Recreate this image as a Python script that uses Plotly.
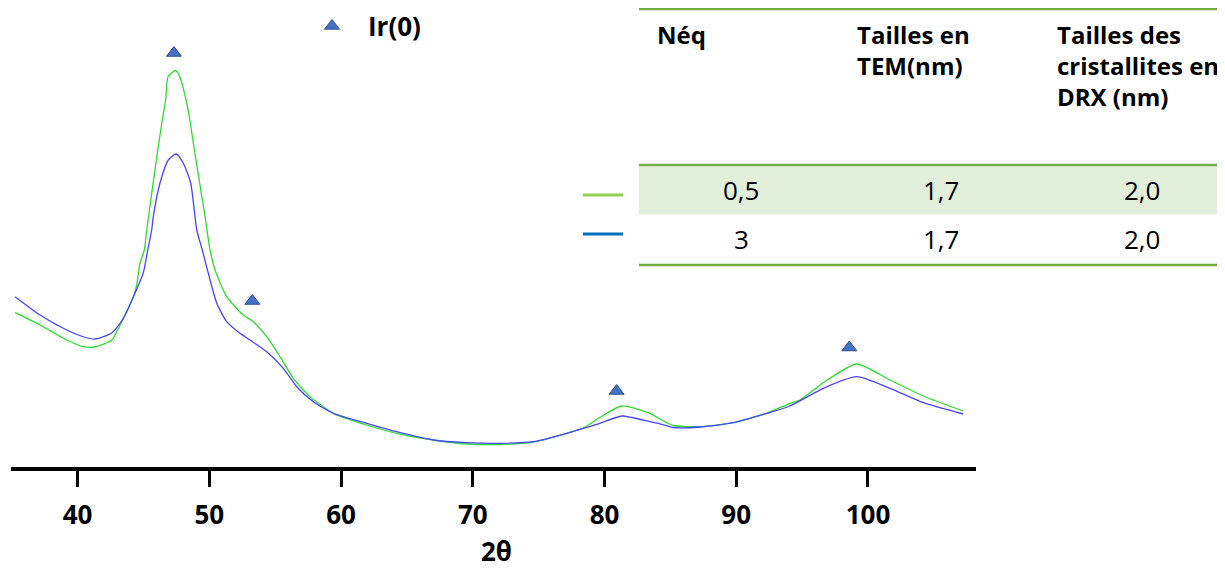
import plotly.graph_objects as go

# ---------------- data ----------------
theta_green = [35.26, 37.15, 39.18, 40.42, 41.33, 42.60, 43.48, 44.24, 44.49, 44.74,
               45.07, 45.25, 46.09, 46.47, 46.69, 46.87, 47.45, 47.76, 48.24, 48.49,
               48.87, 49.68, 50.06, 50.44, 51.32, 52.58, 53.34, 54.36, 55.37, 56.38,
               57.65, 59.42, 61.95, 64.23, 67.00, 69.54, 72.07, 74.60, 77.13, 78.39,
               79.66, 81.31, 83.45, 84.34, 85.22, 87.25, 89.78, 92.31, 94.08, 94.84,
               96.61, 99.14, 101.67, 104.20, 107.23]
int_green = [154.3, 142.0, 127.0, 120.3, 120.0, 127.0, 148.7, 170.3, 182.0, 204.0,
             217.0, 237.0, 317.0, 350.0, 367.0, 390.3, 396.5, 390.3, 367.0, 350.0,
             317.0, 250.3, 217.0, 197.0, 170.3, 152.0, 145.3, 130.3, 110.3, 88.7,
             70.3, 53.7, 42.0, 33.7, 27.0, 23.0, 22.5, 25.0, 33.7, 39.0,
             49.7, 61.0, 53.7, 47.0, 41.5, 40.3, 44.3, 53.7, 63.7, 67.0,
             84.3, 103.0, 87.0, 71.0, 56.0]

theta_blue = [35.26, 37.15, 39.18, 40.50, 41.33, 42.60, 43.48, 44.24, 44.99, 45.33,
              45.63, 45.75, 46.26, 46.89, 47.48, 48.03, 48.59, 49.05, 49.47, 50.06,
              50.57, 51.32, 52.33, 53.09, 54.36, 55.62, 56.64, 57.90, 59.42, 61.95,
              64.23, 67.00, 69.54, 72.07, 74.60, 77.13, 78.39, 79.66, 81.31, 83.45,
              84.34, 85.22, 87.25, 89.78, 92.31, 94.08, 96.61, 99.14, 101.67, 104.20,
              107.23]
int_blue = [170.3, 152.0, 137.0, 130.0, 128.0, 134.0, 148.7, 170.3, 194.0, 217.0,
            237.0, 250.3, 284.0, 307.0, 313.0, 303.7, 284.0, 237.0, 217.0, 187.0,
            163.7, 145.3, 133.7, 127.0, 115.3, 98.7, 80.3, 65.3, 53.7, 43.7,
            35.3, 27.0, 24.3, 23.7, 25.3, 33.7, 38.7, 43.7, 51.0, 45.3,
            42.7, 39.5, 40.0, 44.3, 53.7, 61.0, 78.7, 90.3, 78.7, 64.3,
            53.0]

theta_ir = [47.32, 53.27, 80.92, 98.58]
int_ir = [414.0, 166.0, 76.0, 119.5]

tick_vals = [40, 50, 60, 70, 80, 90, 100]
tick_text = ["40", "50", "60", "70", "80", "90", "100"]
x_title = "2θ"

table_header = ["Néq", "Tailles en<br>TEM(nm)", "Tailles des<br>cristallites en<br>DRX (nm)"]
table_rows = [["0,5", "1,7", "2,0"], ["3", "1,7", "2,0"]]
row_colors = ["#92D050", "#0070C0"]

GREEN_LINE = "#2EDD2E"
BLUE_LINE = "#4646F5"

# ---------------- layout geometry (page pixel coordinates) ----------------
OFF = 8                      # default page body margin
W, H = 1225 - OFF, 571 - OFF
L, R = 11, 976               # plot area, page pixels
T, B = 8, 467


def px(x):
    return (x - L) / (R - L)


def py(y):
    return (B - y) / (B - T)


FONT = "Open Sans"

fig = go.Figure()
fig.add_trace(go.Scatter(x=theta_green, y=int_green, mode="lines",
                         line=dict(color=GREEN_LINE, width=1.3, shape="spline", smoothing=0.6),
                         showlegend=False))
fig.add_trace(go.Scatter(x=theta_blue, y=int_blue, mode="lines",
                         line=dict(color=BLUE_LINE, width=1.3, shape="spline", smoothing=0.6),
                         showlegend=False))
fig.add_trace(go.Scatter(x=theta_ir, y=int_ir, mode="markers", name="Ir(0)",
                         marker=dict(symbol="triangle-up", size=13, color="#4472C4",
                                     line=dict(color="#2F528F", width=1))))

shapes = []
annotations = []

# table rules
tbl_left, tbl_right = 639, 1225
for yline in [9, 165, 265]:
    shapes.append(dict(type="line", xref="paper", yref="paper",
                       x0=px(tbl_left), x1=px(tbl_right), y0=py(yline), y1=py(yline),
                       line=dict(color="#70AD47", width=2.5), layer="above"))
# shaded first row
shapes.append(dict(type="rect", xref="paper", yref="paper",
                   x0=px(tbl_left), x1=px(tbl_right), y0=py(214.5), y1=py(166.2),
                   fillcolor="#E2EFDA", line=dict(width=0), layer="below"))

col_left = [655, 855, 1055]
col_center = [741, 941, 1142]
for ci, head in enumerate(table_header):
    annotations.append(dict(text=head, xref="paper", yref="paper",
                            x=px(col_left[ci]), y=py(16), align="left",
                            xanchor="left", yanchor="top", showarrow=False,
                            font=dict(family=FONT, size=24, color="black", weight="bold")))

row_y = [190, 239]
for ri, row in enumerate(table_rows):
    for ci, val in enumerate(row):
        annotations.append(dict(text=val, xref="paper", yref="paper",
                                x=px(col_center[ci]), y=py(row_y[ri]),
                                xanchor="center", yanchor="middle", showarrow=False,
                                font=dict(family=FONT, size=26, color="black")))
    shapes.append(dict(type="line", xref="paper", yref="paper",
                       x0=px(583), x1=px(623), y0=py([195, 234][ri]), y1=py([195, 234][ri]),
                       line=dict(color=row_colors[ri], width=3)))

# axis title
annotations.append(dict(text=x_title, xref="paper", yref="paper",
                        x=px(497), y=py(551), xanchor="center", yanchor="middle",
                        showarrow=False,
                        font=dict(family=FONT, size=26, color="black", weight="bold")))

fig.update_layout(
    width=W, height=H,
    margin=dict(l=L - OFF, r=W - (R - OFF), t=T - OFF, b=H - (B - OFF), autoexpand=False),
    paper_bgcolor="white", plot_bgcolor="white",
    shapes=shapes, annotations=annotations,
    showlegend=True,
    legend=dict(x=px(296), y=py(26), xanchor="left", yanchor="middle",
                itemwidth=62, bgcolor="rgba(0,0,0,0)",
                font=dict(family=FONT, size=26, color="black", weight="bold")),
    xaxis=dict(range=[34.95, 108.2], showgrid=False, zeroline=False,
               showline=True, linecolor="black", linewidth=4,
               ticks="outside", ticklen=16, tickwidth=3, tickcolor="black",
               tickvals=tick_vals, ticktext=tick_text, ticklabelstandoff=6,
               tickfont=dict(family=FONT, size=26, color="black", weight="bold")),
    yaxis=dict(range=[0, B - T], visible=False, showgrid=False, zeroline=False),
)

fig.write_html("out.html")
